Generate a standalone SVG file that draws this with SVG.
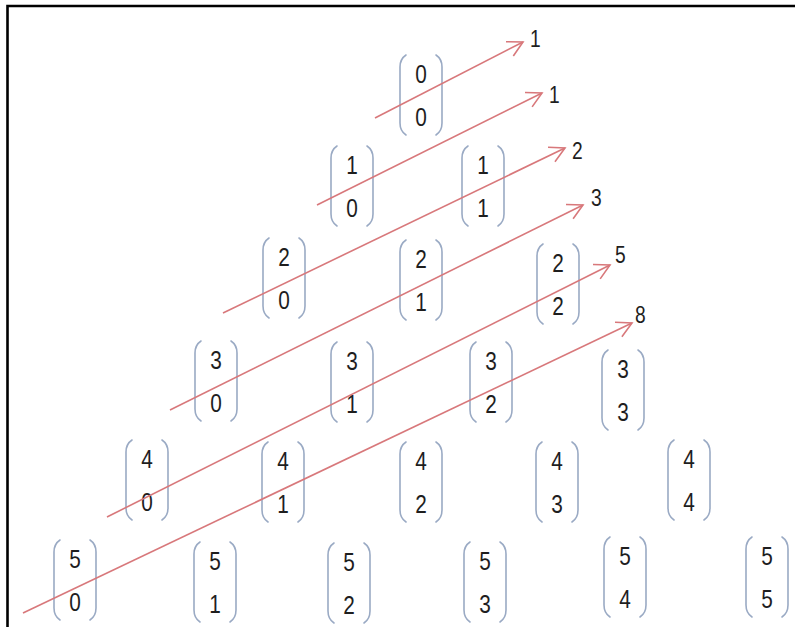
<svg xmlns="http://www.w3.org/2000/svg" width="795" height="627" viewBox="0 0 795 627">
<defs>
<style>
.p{fill:none;stroke:#9aaac4;stroke-width:1.6;stroke-linecap:round}
.d{font-family:"Liberation Sans",Arial,sans-serif;font-size:26px;fill:#1e1e1e;text-anchor:middle;transform:scaleX(0.8)}
.l{font-family:"Liberation Sans",Arial,sans-serif;font-size:24px;fill:#1e1e1e;transform:scaleX(0.8)}
.a{fill:none;stroke:#d8787b;stroke-width:1.6;marker-end:url(#h)}
</style>
<marker id="h" markerUnits="userSpaceOnUse" markerWidth="24" markerHeight="24" refX="0" refY="0" viewBox="-20 -12 24 24" orient="auto" overflow="visible">
<path d="M-15,-8 L0,0 L-15,8" fill="none" stroke="#d8787b" stroke-width="1.6"/>
</marker>
<g id="br">
<path class="p" d="M-15,-40 Q-21,-36 -21,-28 L-21,28 Q-21,36 -15,40"/>
<path class="p" d="M15,-40 Q21,-36 21,-28 L21,28 Q21,36 15,40"/>
</g>
</defs>
<rect width="795" height="627" fill="#fff"/>
<path d="M7.5,627 V6 H795" fill="none" stroke="#000" stroke-width="2.6"/>

<g id="n00" transform="translate(421,95)"><use href="#br"/><text class="d" y="-12">0</text><text class="d" y="31">0</text></g>

<g id="n10" transform="translate(352,186)"><use href="#br"/><text class="d" y="-12">1</text><text class="d" y="31">0</text></g>
<g id="n11" transform="translate(483,186)"><use href="#br"/><text class="d" y="-12">1</text><text class="d" y="31">1</text></g>

<g id="n20" transform="translate(284,278)"><use href="#br"/><text class="d" y="-12">2</text><text class="d" y="31">0</text></g>
<g id="n21" transform="translate(421,280)"><use href="#br"/><text class="d" y="-12">2</text><text class="d" y="31">1</text></g>
<g id="n22" transform="translate(558,284)"><use href="#br"/><text class="d" y="-12">2</text><text class="d" y="31">2</text></g>

<g id="n30" transform="translate(216,381)"><use href="#br"/><text class="d" y="-12">3</text><text class="d" y="31">0</text></g>
<g id="n31" transform="translate(352,382)"><use href="#br"/><text class="d" y="-12">3</text><text class="d" y="31">1</text></g>
<g id="n32" transform="translate(491,382)"><use href="#br"/><text class="d" y="-12">3</text><text class="d" y="31">2</text></g>
<g id="n33" transform="translate(623,390)"><use href="#br"/><text class="d" y="-12">3</text><text class="d" y="31">3</text></g>

<g id="n40" transform="translate(147,480)"><use href="#br"/><text class="d" y="-12">4</text><text class="d" y="31">0</text></g>
<g id="n41" transform="translate(283,482)"><use href="#br"/><text class="d" y="-12">4</text><text class="d" y="31">1</text></g>
<g id="n42" transform="translate(421,482)"><use href="#br"/><text class="d" y="-12">4</text><text class="d" y="31">2</text></g>
<g id="n43" transform="translate(557,482)"><use href="#br"/><text class="d" y="-12">4</text><text class="d" y="31">3</text></g>
<g id="n44" transform="translate(689,480)"><use href="#br"/><text class="d" y="-12">4</text><text class="d" y="31">4</text></g>

<g id="n50" transform="translate(75,580)"><use href="#br"/><text class="d" y="-12">5</text><text class="d" y="31">0</text></g>
<g id="n51" transform="translate(215,582)"><use href="#br"/><text class="d" y="-12">5</text><text class="d" y="31">1</text></g>
<g id="n52" transform="translate(349,583)"><use href="#br"/><text class="d" y="-12">5</text><text class="d" y="31">2</text></g>
<g id="n53" transform="translate(485,582)"><use href="#br"/><text class="d" y="-12">5</text><text class="d" y="31">3</text></g>
<g id="n54" transform="translate(625,577)"><use href="#br"/><text class="d" y="-12">5</text><text class="d" y="31">4</text></g>
<g id="n55" transform="translate(767,577)"><use href="#br"/><text class="d" y="-12">5</text><text class="d" y="31">5</text></g>

<g id="connectors">
<line class="a" x1="375" y1="118" x2="523" y2="42"/>
<line class="a" x1="317" y1="205" x2="542" y2="93"/>
<line class="a" x1="223" y1="313" x2="565" y2="148"/>
<line class="a" x1="170" y1="410" x2="583" y2="205"/>
<line class="a" x1="107" y1="517" x2="610" y2="265"/>
<line class="a" x1="23" y1="613" x2="632" y2="323"/>
</g>
<g id="labels">
<g transform="translate(530,47)"><text class="l">1</text></g>
<g transform="translate(549,103)"><text class="l">1</text></g>
<g transform="translate(572,159)"><text class="l">2</text></g>
<g transform="translate(591,206)"><text class="l">3</text></g>
<g transform="translate(615,263)"><text class="l">5</text></g>
<g transform="translate(635,323)"><text class="l">8</text></g>
</g>
</svg>
